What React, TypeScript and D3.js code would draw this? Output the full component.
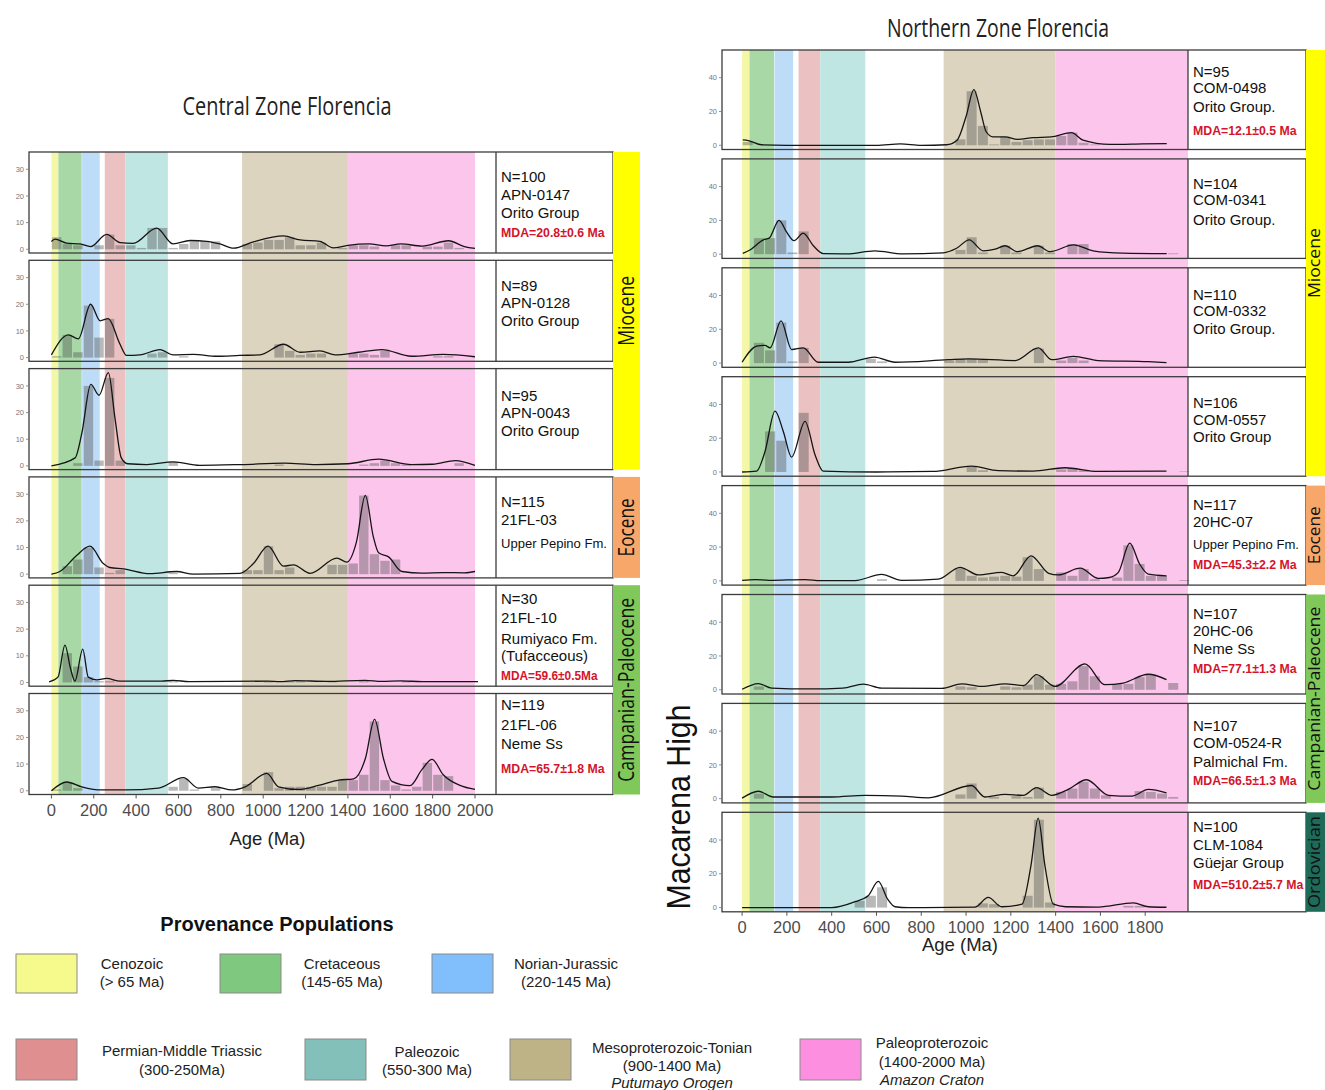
import * as d3 from 'd3';

// ---------- data ----------
const provinceNames = ['Cenozoic', 'Cretaceous', 'Norian-Jurassic', 'Permian-Middle Triassic', 'Paleozoic', 'Mesoproterozoic-Tonian', 'Paleoproterozoic'];
const provinceRanges = ['(> 65 Ma)', '(145-65 Ma)', '(220-145 Ma)', '(300-250Ma)', '(550-300 Ma)', '(900-1400 Ma)', '(1400-2000 Ma)'];
const provinceNotes = ['', '', '', '', '', 'Putumayo Orogen', 'Amazon Craton'];
const bandFrom = [0, 33, 145, 252, 349, 900, 1400];
const bandTo = [33, 143, 228, 349, 550, 1400, 2000];

const leftAgeTicks = [0, 200, 400, 600, 800, 1000, 1200, 1400, 1600, 1800, 2000];
const rightAgeTicks = [0, 200, 400, 600, 800, 1000, 1200, 1400, 1600, 1800];
const leftCountTicks = [0, 10, 20, 30];
const rightCountTicks = [0, 20, 40];
const binWidth = 50;

// Central Zone Florencia (KDE knots [age, value], histogram counts per 50 Ma bin)
const apn0147Curve = [[0, 2.9], [17, 3.8], [72, 2.3], [135, 2.0], [185, 1.0], [261, 5.6], [324, 2.5], [386, 2.2], [497, 7.9], [575, 2.0], [655, 3.3], [733, 3.0], [796, 2.0], [860, 0.4], [954, 2.8], [1096, 5.0], [1174, 3.5], [1268, 3.0], [1330, 0.5], [1400, 1.5], [1500, 2.0], [1580, 1.3], [1650, 2.0], [1750, 1.2], [1875, 3.2], [1950, 1.0], [2000, 0.3]];
const apn0147Bars = [4.5, 2, 1.5, 0, 1.5, 5.5, 1.5, 1.5, 0.5, 8, 8, 0.5, 2, 3, 3, 3, 0, 0, 2, 2.5, 3.5, 3.5, 4.5, 1.5, 1.5, 2.5, 0, 0.5, 1.5, 1.5, 1, 0, 1.5, 1.5, 0, 1, 1, 2.5, 0.5, 0];
const apn0128Curve = [[0, 1], [80, 8.5], [127, 7], [185, 20], [230, 13.8], [268, 14.6], [324, 5], [355, 0.8], [418, 1], [513, 3], [575, 1], [670, 1.2], [782, 0.5], [890, 0.8], [985, 1], [1096, 5], [1174, 2], [1268, 2.5], [1340, 1], [1450, 2], [1560, 3], [1700, 0.5], [1850, 1.2], [2000, 0.3]];
const apn0128Bars = [0.5, 8.5, 2, 19.5, 7.5, 14.5, 0, 0, 0, 1.5, 2, 0, 0.5, 0, 0, 0, 0, 0, 0, 0, 0, 5, 2.5, 1, 1.5, 1.5, 0, 0, 1.5, 1.5, 1, 2.5, 0, 0, 0, 0, 0.5, 0.5, 0, 0];
const apn0043Curve = [[0, 0], [112, 3], [143, 12], [186, 30.6], [225, 26.5], [269, 35], [300, 18], [330, 3], [360, 0.8], [450, 0.5], [576, 1.5], [700, 0.2], [900, 0.5], [1100, 1], [1250, 0.5], [1400, 0.8], [1545, 2.5], [1700, 0.5], [1800, 0.6], [1907, 2], [2000, 0.2]];
const apn0043Bars = [0, 0, 1, 30, 2, 33, 2, 0, 0, 0, 0, 1.5, 0, 0, 0, 0, 0, 0, 0, 0, 0, 0.5, 0, 0, 0, 0, 0, 0, 0, 0.5, 1, 2, 1, 0.5, 0, 0, 0, 0, 1, 0];
const fl03Curve = [[0, 0], [40, 1], [119, 7], [182, 10.5], [245, 4], [276, 2.5], [339, 2], [465, 0.2], [591, 1], [670, 0], [890, 0.3], [954, 4], [1023, 10.5], [1096, 3], [1143, 3.5], [1221, 0.3], [1348, 6], [1395, 4.5], [1440, 12], [1482, 29.6], [1520, 14], [1545, 8], [1592, 6.5], [1655, 1], [1750, 0.4], [1850, 0.6], [1950, 0.5], [2000, 1]];
const fl03Bars = [0, 3, 5.5, 10, 2.5, 0.5, 1.5, 0, 0, 0, 0, 0.5, 0, 0, 0, 0, 0, 0, 1.5, 1.5, 10.5, 1.5, 2.5, 0, 0, 0, 3.5, 3.5, 4, 29.5, 7.5, 5, 5.5, 0, 0, 0, 0, 0, 0, 0];
const fl10Curve = [[-11, 0.2], [31, 2], [64, 14], [91, 5], [111, 0.5], [148, 12.5], [174, 2], [214, 1], [261, 1.5], [324, 0.5], [520, 0.5], [575, 0.8], [650, 0.3], [1020, 0.5], [1080, 0.3], [1150, 0.7], [1300, 0.4], [1480, 0.8], [1560, 0.4], [1650, 0.6], [1750, 0.3], [2014, 0.3]];
const fl10Bars = [0, 11, 6, 2, 0.5, 0.5, 0, 0, 0, 0, 0, 0.5, 0, 0, 0, 0, 0, 0, 0, 0, 0.5, 0, 0.5, 0.5, 0, 0, 0.5, 0, 0, 0.5, 0, 0, 0, 0.5, 0, 0, 0, 0, 0, 0];
const fl06Curve = [[0, 0], [72, 3.3], [143, 1.5], [238, 0.3], [348, 0.3], [505, 1], [623, 4.9], [694, 1], [773, 1.5], [852, 0.3], [915, 1.5], [1017, 6.5], [1072, 1.5], [1167, 0.5], [1261, 2], [1356, 4], [1427, 4.5], [1482, 12], [1526, 26.8], [1568, 12], [1608, 3.5], [1693, 1.9], [1750, 8], [1797, 11.8], [1850, 6], [1929, 2], [2000, 0.5]];
const fl06Bars = [0.5, 3, 1, 0, 0, 0, 0, 0, 0, 0, 0, 1.5, 4.5, 0.5, 0, 1, 0, 0, 2.5, 0, 7, 1, 1.5, 1.5, 1.5, 1.5, 1.5, 4, 4, 6, 26, 4, 2, 0.5, 1.5, 10.5, 6, 5.5, 0, 0];

// Northern Zone Florencia / Macarena High
const com0498Curve = [[3, 3.2], [28, 2.8], [87, 0.3], [200, 0], [600, 0], [707, 0.8], [800, 0], [913, 0.3], [960, 3], [1000, 17], [1035, 33], [1065, 20], [1090, 8], [1120, 5], [1174, 5], [1230, 3.5], [1300, 4.5], [1380, 5], [1471, 7.5], [1522, 3], [1643, 0.5], [1790, 0.8], [1896, 1]];
const com0498Bars = [2, 0, 0, 0, 0, 0, 0, 0, 0, 0, 0, 0, 0, 0, 0, 0, 0, 0, 0, 3.5, 32, 11.5, 0.5, 5, 2, 3, 3.5, 3.5, 5.5, 7.5, 1.5, 0.5, 0, 0, 0, 0, 0, 0, 0, 0];
const com0341Curve = [[3, 0.5], [35, 2.5], [95, 8.5], [121, 9.5], [165, 20], [199, 13], [232, 8], [273, 12.5], [318, 5], [363, 0.3], [467, 0.2], [593, 2], [718, 0.2], [898, 0.8], [958, 3.5], [1014, 8.5], [1077, 2], [1130, 3], [1174, 5], [1230, 1.5], [1320, 5], [1375, 1.5], [1480, 5.5], [1567, 2], [1700, 0.6], [1896, 0.3]];
const com0341Bars = [0, 9.5, 9.5, 20, 1, 13.5, 0, 0, 0, 0, 0, 0, 0, 0, 0, 0, 0, 0, 0, 2.5, 10, 1, 0, 5, 1, 0, 5, 1, 0, 6, 6, 0, 0, 0, 0, 0, 0, 0, 0.5, 0];
const com0332Curve = [[0, 0.5], [65, 10], [102, 10.5], [125, 9], [174, 25], [221, 8], [273, 9], [340, 0.5], [474, 0.5], [590, 3.5], [683, 0.5], [920, 2], [1010, 2.5], [1219, 1.5], [1323, 9], [1383, 2], [1479, 4], [1590, 1.5], [1814, 0.8], [1895, 0.3]];
const com0332Bars = [0, 12, 7.5, 24, 1, 9, 0, 0, 0, 0, 0, 2.5, 1, 0, 0, 0, 0, 0, 1.5, 2.5, 2.5, 2, 0, 0, 0, 0, 8.5, 0, 1.5, 3, 1.5, 0, 0, 0, 0, 0, 0, 0, 0, 0];
const com0557Curve = [[0, 0], [65, 0.5], [102, 12], [147, 36], [184, 24], [221, 8.8], [281, 30], [326, 10], [362, 0.5], [600, 0], [850, 0.3], [1024, 3.5], [1144, 0.8], [1300, 0.5], [1441, 2.5], [1590, 0.3], [1895, 0.5]];
const com0557Bars = [0, 0, 24, 18.5, 0, 35, 0, 0, 0, 0, 0, 0, 0, 0, 0, 0, 0, 0, 0, 0, 3, 1, 0, 0, 0, 0, 0, 0, 1.5, 2, 1, 0, 0, 0, 0, 0, 0, 0, 0, 0.3];
const hc07Curve = [[0, 0.3], [58, 0.8], [120, 0.3], [281, 0.8], [350, 0.2], [504, 0.2], [623, 3.8], [712, 0.3], [876, 1], [973, 8], [1055, 3.5], [1159, 5], [1211, 3], [1290, 14.8], [1369, 4.5], [1412, 3.5], [1510, 7.5], [1590, 1.5], [1640, 2], [1680, 5], [1731, 22.3], [1775, 10], [1814, 4], [1895, 3]];
const hc07Bars = [0, 0, 0, 0, 0, 0, 0, 0, 0, 0, 0, 0, 1, 0, 0, 0, 0, 0, 0, 7.5, 3, 2, 2.5, 3, 2.5, 14, 7, 0, 5, 3, 7, 1, 0, 2, 21, 10, 3, 3, 0, 0.5];
const hc06Curve = [[0, 0.3], [73, 3.7], [132, 1], [300, 0.5], [450, 1], [541, 3.4], [623, 1], [891, 0.8], [981, 3.5], [1070, 2], [1174, 3.5], [1256, 2.5], [1315, 9], [1397, 2], [1531, 15.3], [1620, 3], [1702, 4], [1814, 9.2], [1895, 6]];
const hc06Bars = [0, 2, 0, 0, 0, 0, 0, 0, 0, 0, 0, 0, 0, 0, 0, 0, 0, 0, 0, 2, 1.5, 0, 0, 2, 1.5, 3, 8, 3, 3.5, 5, 14, 8, 0, 3.5, 3.5, 7.5, 9, 0, 4, 0];
const com0524Curve = [[0, 0.3], [73, 4.4], [139, 1], [400, 1], [548, 2], [712, 1.5], [831, 0.5], [1024, 7.8], [1084, 1], [1174, 2.5], [1256, 2], [1315, 6.5], [1383, 2], [1457, 5.5], [1538, 11.2], [1636, 2], [1740, 1.5], [1814, 5.5], [1895, 3.5]];
const com0524Bars = [0, 3, 0, 0, 0, 0, 0, 0, 0, 0, 0, 0, 0, 0, 0, 0, 0, 0, 0, 2.5, 9, 0, 1, 0, 1.5, 1, 6.5, 0, 4, 6, 10, 6, 2, 0, 0, 4.5, 4, 3, 1, 0];
const clm1084Curve = [[0, 0], [400, 0], [504, 3.5], [563, 7], [608, 15.5], [650, 5], [683, 0.5], [742, 0], [1040, 0.3], [1099, 6], [1159, 0.5], [1250, 2], [1290, 25], [1322, 53], [1352, 25], [1390, 2], [1444, 0.5], [1590, 0.3], [1747, 2.8], [1814, 0.5], [1895, 0.2]];
const clm1084Bars = [0, 0, 0, 0, 0, 0, 0, 0, 0, 0, 4, 7, 12, 0, 0, 0, 0, 0, 0, 0, 0, 2.5, 2, 0, 0, 7, 52, 3, 0, 0, 0, 0, 0, 0, 1, 1, 0, 0, 0, 0];

const leftCurves = [apn0147Curve, apn0128Curve, apn0043Curve, fl03Curve, fl10Curve, fl06Curve];
const leftBars = [apn0147Bars, apn0128Bars, apn0043Bars, fl03Bars, fl10Bars, fl06Bars];
const leftLabels = [
  ['N=100', 'APN-0147', 'Orito Group', 'MDA=20.8±0.6 Ma'],
  ['N=89', 'APN-0128', 'Orito Group'],
  ['N=95', 'APN-0043', 'Orito Group'],
  ['N=115', '21FL-03', 'Upper Pepino Fm.'],
  ['N=30', '21FL-10', 'Rumiyaco Fm.', '(Tufacceous)', 'MDA=59.6±0.5Ma'],
  ['N=119', '21FL-06', 'Neme Ss', 'MDA=65.7±1.8 Ma'],
];
const leftEpochNames = ['Miocene', 'Eocene', 'Campanian-Paleocene'];
const leftEpochSpans = [[0, 2], [3, 3], [4, 5]];

const rightCurves = [com0498Curve, com0341Curve, com0332Curve, com0557Curve, hc07Curve, hc06Curve, com0524Curve, clm1084Curve];
const rightBars = [com0498Bars, com0341Bars, com0332Bars, com0557Bars, hc07Bars, hc06Bars, com0524Bars, clm1084Bars];
const rightLabels = [
  ['N=95', 'COM-0498', 'Orito Group.', 'MDA=12.1±0.5 Ma'],
  ['N=104', 'COM-0341', 'Orito Group.'],
  ['N=110', 'COM-0332', 'Orito Group.'],
  ['N=106', 'COM-0557', 'Orito Group'],
  ['N=117', '20HC-07', 'Upper Pepino Fm.', 'MDA=45.3±2.2 Ma'],
  ['N=107', '20HC-06', 'Neme Ss', 'MDA=77.1±1.3 Ma'],
  ['N=107', 'COM-0524-R', 'Palmichal Fm.', 'MDA=66.5±1.3 Ma'],
  ['N=100', 'CLM-1084', 'Güejar Group', 'MDA=510.2±5.7 Ma'],
];
const rightEpochNames = ['Miocene', 'Eocene', 'Campanian-Paleocene', 'Ordovician'];
const rightEpochSpans = [[0, 3], [4, 4], [5, 6], [7, 7]];

// ---------- styling / layout ----------
const bandFill = ['#f4f8a6', '#a7d8a6', '#bddcf7', '#ecc1c1', '#c0e6e3', '#ddd4c0', '#fcc5ec'];
const swatchFill = ['#f6fa8c', '#7ec87f', '#80bffc', '#df8f8f', '#82c0b9', '#bdb386', '#fc8fe0'];
const epochFill = { Miocene: '#ffff00', Eocene: '#f8a76a', 'Campanian-Paleocene': '#7fc859', Ordovician: '#1e6b5a' };
const epochLen = { Miocene: 70, Eocene: 58, 'Campanian-Paleocene': 184, Ordovician: 92 };

const leftOffsets = [[24.7, 42.3, 60.7, 81.3], [24.7, 42, 60.4], [26.4, 43.4, 61.4], [25, 43, 67], [13, 32.5, 53, 70, 91], [11, 30.5, 50, 75]];
const rightOffsets = [[21.7, 37.7, 56.7, 80.7], [24.4, 41, 61], [27, 43, 61], [26, 43, 60], [18.5, 35.5, 58.5, 79.5], [18.5, 36, 54, 74], [21.6, 39.3, 57.6, 77.6], [14.4, 31.7, 50.4, 72.7]];

const LEFT = { frameL: 29, frameR: 496, boxR: 613, epochR: 640, epochX: 626, epochFont: 21, x0: 51.4, x2000: 475, top0: 152, step: 108.3, h: 101, yDom: [-1.4, 36.5], axisLabelY: 838 };
const RIGHT = { frameL: 722, frameR: 1188, boxR: 1306, epochR: 1330, epochX: 1314, epochFont: 16, x0: 742.1, x2000: 1190, top0: 50, step: 108.9, h: 99.5, yDom: [-2.5, 56.4], axisLabelY: 944 };

const SANS = 'Liberation Sans, Arial, sans-serif';
const TITLE = 'Open Sans, sans-serif';

function lineStyle(t: string) {
  if (t.startsWith('MDA')) return { fontSize: 12, fontWeight: 700, fill: '#d4142b', textLength: t.length * 6.9 };
  if (t === 'Upper Pepino Fm.') return { fontSize: 13.5, fontWeight: 400, fill: '#111', textLength: 106 };
  return { fontSize: 15, fontWeight: 400, fill: '#111', textLength: undefined };
}

function Column({ cfg, curves, bars, labels, offsets, epochNames, epochSpans, ageTicks, countTicks }: any) {
  const x = d3.scaleLinear().domain([0, 2000]).range([cfg.x0, cfg.x2000]);
  const n = curves.length;
  const tops = d3.range(n).map((i) => cfg.top0 + i * cfg.step);
  const bottom = tops[n - 1] + cfg.h;
  const barW = x(binWidth) - x(0);

  return (
    <g>
      {/* provenance bands, continuous across the stack */}
      {bandFrom.map((f, i) => {
        const x1 = Math.max(cfg.frameL, x(f));
        const x2 = Math.min(cfg.frameR, x(bandTo[i]));
        return <rect key={'b' + i} x={x1} y={tops[0]} width={x2 - x1} height={bottom - tops[0]} fill={bandFill[i]} />;
      })}

      {curves.map((curve: number[][], i: number) => {
        const top = tops[i];
        const y = d3.scaleLinear().domain(cfg.yDom).range([top + cfg.h, top]);
        const line = d3
          .line<number[]>()
          .x((d) => x(d[0]))
          .y((d) => y(d[1]))
          .curve(d3.curveMonotoneX);
        return (
          <g key={'p' + i}>
            <rect x={cfg.frameR} y={top} width={cfg.boxR - cfg.frameR} height={cfg.h} fill="#fff" />
            {bars[i].map((v: number, j: number) =>
              v > 0 ? (
                <rect key={j} x={x(j * binWidth) + 0.6} y={y(v)} width={barW - 1.2} height={y(0) - y(v)} fill="#555" fillOpacity={0.42} />
              ) : null
            )}
            <path d={line(curve) || ''} fill="none" stroke="#151515" strokeWidth={1.3} />
            <rect x={cfg.frameL} y={top} width={cfg.boxR - cfg.frameL} height={cfg.h} fill="none" stroke="#3c3c3c" strokeWidth={1.3} />
            <line x1={cfg.frameR} x2={cfg.frameR} y1={top} y2={top + cfg.h} stroke="#3c3c3c" strokeWidth={1.3} />
            {countTicks.map((t: number) => (
              <g key={t}>
                <line x1={cfg.frameL - 3} x2={cfg.frameL} y1={y(t)} y2={y(t)} stroke="#777" strokeWidth={0.8} />
                <text x={cfg.frameL - 5} y={y(t)} dy="0.35em" textAnchor="end" fontSize={7.5} fill="#777" fontFamily={SANS}>
                  {t}
                </text>
              </g>
            ))}
            {labels[i].map((t: string, k: number) => {
              const s = lineStyle(t);
              return (
                <text
                  key={k}
                  x={cfg.frameR + 5}
                  y={top + offsets[i][k]}
                  dominantBaseline="central"
                  fontFamily={SANS}
                  fontSize={s.fontSize}
                  fontWeight={s.fontWeight}
                  fill={s.fill}
                  textLength={s.textLength}
                  lengthAdjust={s.textLength ? 'spacingAndGlyphs' : undefined}
                >
                  {t}
                </text>
              );
            })}
          </g>
        );
      })}

      {epochNames.map((name: string, i: number) => {
        const y1 = tops[epochSpans[i][0]];
        const y2 = tops[epochSpans[i][1]] + cfg.h;
        const cy = (y1 + y2) / 2;
        return (
          <g key={name}>
            <rect x={cfg.boxR} y={y1} width={cfg.epochR - cfg.boxR} height={y2 - y1} fill={(epochFill as any)[name]} />
            <text
              x={cfg.epochX}
              y={cy}
              transform={`rotate(-90 ${cfg.epochX} ${cy})`}
              textAnchor="middle"
              dominantBaseline="central"
              fontFamily={TITLE}
              fontSize={cfg.epochFont}
              fill="#111"
              textLength={(epochLen as any)[name]}
              lengthAdjust="spacingAndGlyphs"
            >
              {name}
            </text>
          </g>
        );
      })}

      {ageTicks.map((t: number) => (
        <g key={'x' + t}>
          <line x1={x(t)} x2={x(t)} y1={bottom} y2={bottom + 4} stroke="#555" strokeWidth={1} />
          <text x={x(t)} y={bottom + 15} dominantBaseline="central" textAnchor="middle" fontSize={16.5} fill="#4d4d4d" fontFamily={SANS}>
            {t}
          </text>
        </g>
      ))}
      <text x={(cfg.frameL + cfg.frameR) / 2 + 5} y={cfg.axisLabelY} dominantBaseline="central" textAnchor="middle" fontSize={18.5} fill="#222" fontFamily={SANS}>
        Age (Ma)
      </text>
    </g>
  );
}

const legendSwatchX = [16, 220, 432, 16, 305, 510, 800];
const legendRow = [0, 0, 0, 1, 1, 1, 1];
const legendRowY = [954, 1039];
const legendRowH = [39, 41];
const legendTextX = [132, 342, 566, 182, 427, 672, 932];
const legendLineY = [[963, 981], [963, 981], [963, 981], [1050, 1069], [1051, 1069], [1047, 1065, 1082], [1042, 1061, 1079]];

function Legend() {
  return (
    <g>
      <text x={277} y={924} textAnchor="middle" dominantBaseline="central" fontFamily={SANS} fontWeight={700} fontSize={20} fill="#111">
        Provenance Populations
      </text>
      {provinceNames.map((name, i) => {
        const lines = [name, provinceRanges[i], provinceNotes[i]].filter((s) => s);
        return (
          <g key={name}>
            <rect x={legendSwatchX[i]} y={legendRowY[legendRow[i]]} width={61} height={legendRowH[legendRow[i]]} fill={swatchFill[i]} stroke="#8a8a8a" strokeWidth={1} />
            {lines.map((t, k) => (
              <text
                key={k}
                x={legendTextX[i]}
                y={legendLineY[i][k]}
                textAnchor="middle"
                dominantBaseline="central"
                fontFamily={SANS}
                fontSize={15}
                fontStyle={k === 2 ? 'italic' : 'normal'}
                fill="#222"
              >
                {t}
              </text>
            ))}
          </g>
        );
      })}
    </g>
  );
}

export default function App() {
  return (
    <svg width={1325} height={1090} style={{ position: 'absolute', left: 0, top: 0, background: '#fff' }}>
      <rect width={1325} height={1090} fill="#fff" />
      <text x={287} y={105} textAnchor="middle" dominantBaseline="central" fontFamily={TITLE} fontSize={26} fill="#222" textLength={209} lengthAdjust="spacingAndGlyphs">
        Central  Zone Florencia
      </text>
      <text x={998} y={27} textAnchor="middle" dominantBaseline="central" fontFamily={TITLE} fontSize={26} fill="#222" textLength={222} lengthAdjust="spacingAndGlyphs">
        Northern Zone Florencia
      </text>
      <text x={678} y={807} transform="rotate(-90 678 807)" textAnchor="middle" dominantBaseline="central" fontFamily={SANS} fontSize={33} fill="#111" textLength={205} lengthAdjust="spacingAndGlyphs">
        Macarena High
      </text>
      <Column
        cfg={LEFT}
        curves={leftCurves}
        bars={leftBars}
        labels={leftLabels}
        offsets={leftOffsets}
        epochNames={leftEpochNames}
        epochSpans={leftEpochSpans}
        ageTicks={leftAgeTicks}
        countTicks={leftCountTicks}
      />
      <Column
        cfg={RIGHT}
        curves={rightCurves}
        bars={rightBars}
        labels={rightLabels}
        offsets={rightOffsets}
        epochNames={rightEpochNames}
        epochSpans={rightEpochSpans}
        ageTicks={rightAgeTicks}
        countTicks={rightCountTicks}
      />
      <Legend />
    </svg>
  );
}
